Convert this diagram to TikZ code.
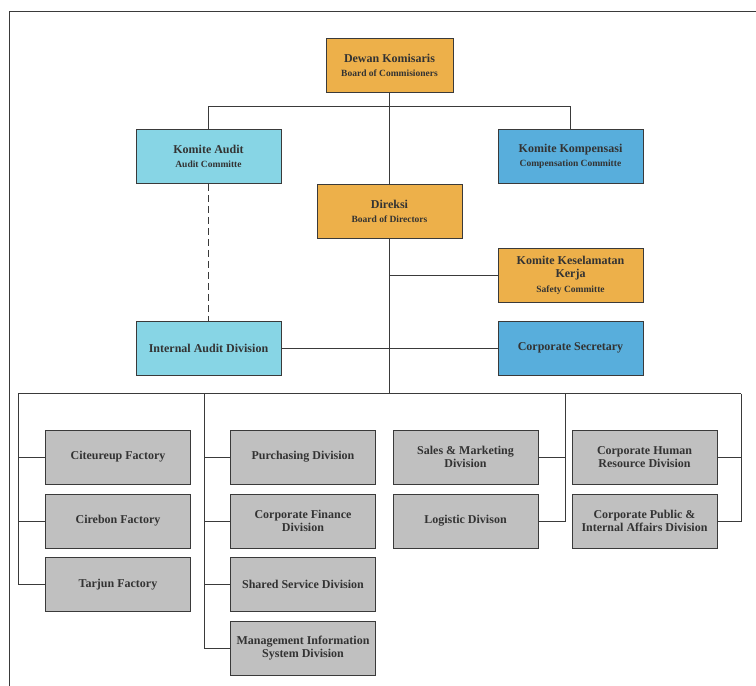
\documentclass[tikz,border=0pt]{standalone}
\usepackage{fontspec}
\setmainfont{Liberation Serif}
\usetikzlibrary{positioning}

\definecolor{orgorange}{HTML}{EDB04A}
\definecolor{orgcyan}{HTML}{87D5E5}
\definecolor{orgblue}{HTML}{58AEDC}
\definecolor{orggray}{HTML}{C0C0C0}
\definecolor{orgline}{HTML}{3A3A3A}
\definecolor{orgtext}{HTML}{333333}

\newcommand{\headtxt}[1]{{\fontsize{12}{13.5}\selectfont #1}}
\newcommand{\subtxt}[1]{{\fontsize{9.5}{11}\selectfont\bfseries #1}}

\begin{document}
\begin{tikzpicture}[
    x=1pt, y=-1pt,
    box/.style={
        draw=orgline,
        line width=0.8pt,
        minimum width=145pt,
        minimum height=54pt,
        inner sep=2pt,
        align=center,
        text=orgtext,
        font=\fontsize{12}{13.5}\selectfont\bfseries
    },
    board/.style={box, fill=orgorange},
    audit/.style={box, fill=orgcyan},
    comp/.style={box, fill=orgblue},
    unit/.style={box, fill=orggray},
    link/.style={draw=orgline, line width=0.8pt},
    dashlink/.style={link, dash pattern=on 7pt off 4pt}
]
    \useasboundingbox (0,0) rectangle (756,686);

    % frame
    \draw[link] (9,686) -- (9,11) -- (756,11);

    % top management
    \node[board, minimum width=127pt] (dk) at (389.5,65.5) {\headtxt{Dewan Komisaris}\\[1pt]\subtxt{Board of Commisioners}};
    \node[audit] (ka) at (208.5,156.5) {\headtxt{Komite Audit}\\[1pt]\subtxt{Audit Committe}};
    \node[comp] (kk) at (570.5,156.5) {\headtxt{Komite Kompensasi}\\[1pt]\subtxt{Compensation Committe}};
    \node[board] (dir) at (389.5,211.5) {\headtxt{Direksi}\\[1pt]\subtxt{Board of Directors}};
    \node[board] (kkk) at (570.5,275) {\headtxt{Komite Keselamatan}\\\headtxt{Kerja}\\[1pt]\subtxt{Safety Committe}};
    \node[audit] (iad) at (208.5,348) {Internal Audit Division};
    \node[comp] (cs) at (570.5,348) {Corporate Secretary};

    % divisions
    \node[unit] (cit) at (118,457) {Citeureup Factory};
    \node[unit] (cir) at (118,521) {Cirebon Factory};
    \node[unit] (tar) at (118,584.5) {Tarjun Factory};
    \node[unit] (pur) at (303,457) {Purchasing Division};
    \node[unit] (cfd) at (303,521) {Corporate Finance\\Division};
    \node[unit] (ssd) at (303,584.5) {Shared Service Division};
    \node[unit] (mis) at (303,648) {Management Information\\System Division};
    \node[unit] (smd) at (465.5,457) {Sales \& Marketing\\Division};
    \node[unit] (log) at (465.5,521) {Logistic Divison};
    \node[unit] (chr) at (644.5,457) {Corporate Human\\Resource Division};
    \node[unit] (cpi) at (644.5,521) {Corporate Public \&\\Internal Affairs Division};

    % upper links
    \draw[link] (dk.south) -- (dir.north);
    \draw[link] (ka.north) -- ++(0,-23) -| (kk.north);
    \draw[dashlink] (ka.south) -- (iad.north);
    \draw[link] (kkk.west) -- (kkk.west -| dir.south);
    \draw[link] (iad.east) -- (cs.west);

    % bus to divisions
    \coordinate (busL) at (18,393.5);
    \coordinate (busB) at (204,393.5);
    \coordinate (busC) at (565,393.5);
    \coordinate (busR) at (741,393.5);
    \draw[link] (dir.south) -- (dir.south |- busL);
    \draw[link] (busL) -- (busR);

    \draw[link] (busL) |- (tar.west);
    \foreach \n in {cit, cir}
        \draw[link] (\n.west) -- (\n.west -| busL);
    \draw[link] (busB) |- (mis.west);
    \foreach \n in {pur, cfd, ssd}
        \draw[link] (\n.west) -- (\n.west -| busB);
    \draw[link] (busC) |- (log.east);
    \draw[link] (smd.east) -- (smd.east -| busC);
    \draw[link] (busR) |- (cpi.east);
    \draw[link] (chr.east) -- (chr.east -| busR);
\end{tikzpicture}
\end{document}
